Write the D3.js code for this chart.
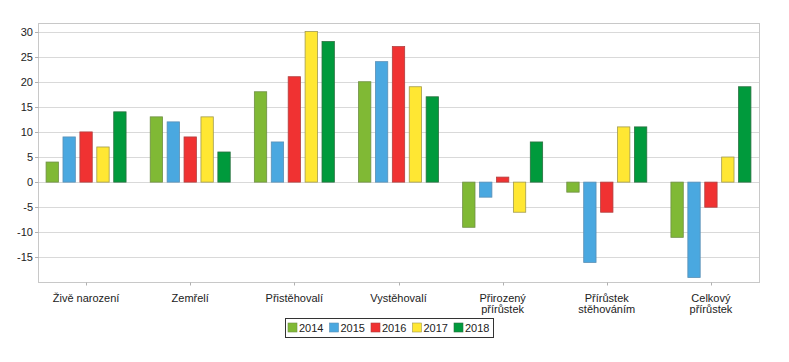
<!DOCTYPE html>
<html>
<head>
<meta charset="utf-8">
<script src="https://cdnjs.cloudflare.com/ajax/libs/d3/7.8.5/d3.min.js"></script>
<style>
  body { margin: 0; background: #fff; }
  text { font-family: Arial, "Liberation Sans", sans-serif; fill: #222; }
</style>
</head>
<body>
<div id="chart"></div>
<script>
var width = 789,
    height = 362;

var categories = [
  ["Živě narození"],
  ["Zemřelí"],
  ["Přistěhovalí"],
  ["Vystěhovalí"],
  ["Přirozený", "přírůstek"],
  ["Přírůstek", "stěhováním"],
  ["Celkový", "přírůstek"]
];
var years = ["2014", "2015", "2016", "2017", "2018"];
var colors = ["#80b935", "#4aa8e0", "#f03232", "#ffe733", "#009a3c"];
var strokes = ["#6f8f45", "#5a8fb5", "#b04040", "#a09a50", "#2a7040"];

// one array per year, in category order
var v2014 = [4, 13, 18, 20, -9, -2, -11];
var v2015 = [9, 12, 8, 24, -3, -16, -19];
var v2016 = [10, 9, 21, 27, 1, -6, -5];
var v2017 = [7, 13, 30, 19, -6, 11, 5];
var v2018 = [14, 6, 28, 17, 8, 11, 19];
var series = [v2014, v2015, v2016, v2017, v2018];
var yTicks = [-15, -10, -5, 0, 5, 10, 15, 20, 25, 30];

var plot = {left: 38.5, top: 23.5, right: 759.5, bottom: 282.5};

var svg = d3.select("#chart").append("svg")
  .attr("width", width)
  .attr("height", height);

var catKeys = categories.map(function(c) { return c.join(" "); });

var x0 = d3.scaleBand().domain(catKeys).range([34, 763]);
var x1 = d3.scaleBand().domain(years).range([-40, 40]).paddingInner(0.27);
var y = d3.scaleLinear().domain([-20, 31.6]).range([plot.bottom, plot.top]);

// grid
svg.append("g").selectAll("line")
  .data(yTicks)
  .enter().append("line")
  .attr("x1", plot.left).attr("x2", plot.right)
  .attr("y1", function(d) { return Math.round(y(d)) + 0.5; })
  .attr("y2", function(d) { return Math.round(y(d)) + 0.5; })
  .attr("stroke", "#d9d9d9");

// frame
svg.append("rect")
  .attr("x", plot.left).attr("y", plot.top)
  .attr("width", plot.right - plot.left)
  .attr("height", plot.bottom - plot.top)
  .attr("fill", "none")
  .attr("stroke", "#c8c8c8");

// y axis labels + ticks
var yAxis = svg.append("g");
yAxis.selectAll("text")
  .data(yTicks)
  .enter().append("text")
  .attr("x", 33)
  .attr("y", function(d) { return y(d) + 4; })
  .attr("text-anchor", "end")
  .style("font-size", "11px")
  .text(function(d) { return d; });
yAxis.selectAll("line")
  .data(yTicks)
  .enter().append("line")
  .attr("x1", 35).attr("x2", plot.left)
  .attr("y1", function(d) { return Math.round(y(d)) + 0.5; })
  .attr("y2", function(d) { return Math.round(y(d)) + 0.5; })
  .attr("stroke", "#b0b0b0");

// bars
var groups = svg.append("g").selectAll("g")
  .data(catKeys)
  .enter().append("g")
  .attr("transform", function(d) { return "translate(" + (x0(d) + x0.bandwidth() / 2) + ",0)"; });

groups.selectAll("rect")
  .data(function(d, i) {
    return years.map(function(yr, j) { return {year: yr, idx: j, value: series[j][i]}; });
  })
  .enter().append("rect")
  .attr("x", function(d) { return x1(d.year); })
  .attr("width", x1.bandwidth())
  .attr("y", function(d) { return y(Math.max(0, d.value)); })
  .attr("height", function(d) { return Math.abs(y(d.value) - y(0)); })
  .attr("fill", function(d) { return colors[d.idx]; })
  .attr("stroke", function(d) { return strokes[d.idx]; })
  .attr("stroke-width", 0.8);

// category ticks and labels
var xAxis = svg.append("g");
xAxis.selectAll("line")
  .data(catKeys)
  .enter().append("line")
  .attr("x1", function(d) { return Math.round(x0(d) + x0.bandwidth() / 2) + 0.5; })
  .attr("x2", function(d) { return Math.round(x0(d) + x0.bandwidth() / 2) + 0.5; })
  .attr("y1", plot.bottom).attr("y2", plot.bottom + 3)
  .attr("stroke", "#b0b0b0");

xAxis.selectAll("text")
  .data(categories)
  .enter().append("text")
  .attr("text-anchor", "middle")
  .attr("x", function(d, i) { return x0(catKeys[i]) + x0.bandwidth() / 2; })
  .attr("y", 302)
  .style("font-size", "11px")
  .each(function(d) {
    var t = d3.select(this);
    d.forEach(function(line, k) {
      t.append("tspan")
        .attr("x", t.attr("x"))
        .attr("dy", k === 0 ? 0 : 11)
        .text(line);
    });
  });

// legend
var legend = svg.append("g");
legend.append("rect")
  .attr("x", 285.5).attr("y", 318.5)
  .attr("width", 208).attr("height", 19)
  .attr("fill", "#fff")
  .attr("stroke", "#333");

var items = legend.selectAll("g.item")
  .data(years)
  .enter().append("g")
  .attr("class", "item")
  .attr("transform", function(d, i) { return "translate(" + (288 + i * 41.5) + ",0)"; });
items.append("rect")
  .attr("x", 0).attr("y", 323)
  .attr("width", 9).attr("height", 9)
  .attr("fill", function(d, i) { return colors[i]; })
  .attr("stroke", function(d, i) { return strokes[i]; })
  .attr("stroke-width", 0.6);
items.append("text")
  .attr("x", 11).attr("y", 332)
  .style("font-size", "11px")
  .text(function(d) { return d; });
</script>
</body>
</html>
